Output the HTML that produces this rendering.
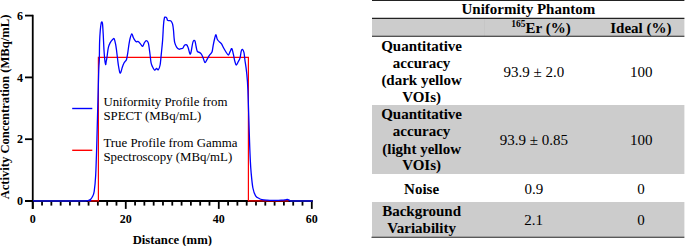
<!DOCTYPE html>
<html><head><meta charset="utf-8"><style>
html,body{margin:0;padding:0;background:#fff;}
body{width:685px;height:246px;overflow:hidden;position:relative;}
svg{position:absolute;left:0;top:0;}
text{font-family:"Liberation Serif",serif;}
</style></head><body>
<svg width="685" height="246" viewBox="0 0 685 246">
<!-- table backgrounds -->
<rect x="372" y="18.5" width="312.4" height="18" fill="#cccccc"/>
<rect x="372" y="105" width="312.4" height="69" fill="#cccccc"/>
<rect x="372" y="202" width="312.4" height="35" fill="#cccccc"/>
<line x1="484.5" y1="19" x2="484.5" y2="36" stroke="#c6c6c6" stroke-width="1"/>
<g stroke="#222" stroke-width="1.1">
<line x1="372" y1="0.5" x2="684.4" y2="0.5"/>
<line x1="372" y1="18.4" x2="684.4" y2="18.4"/>
<line x1="372" y1="36.3" x2="684.4" y2="36.3"/>
<line x1="371.5" y1="237.2" x2="684.4" y2="237.2"/>
</g>
<g font-size="15" font-weight="bold" text-anchor="middle" fill="#000">
<text x="528.4" y="14.3">Uniformity Phantom</text>
<text x="421.6" y="50.8">Quantitative</text>
<text x="421.6" y="67.7">accuracy</text>
<text x="421.6" y="84.5">(dark yellow</text>
<text x="421.6" y="101.5">VOIs)</text>
<text x="421.6" y="119.4">Quantitative</text>
<text x="421.6" y="136.0">accuracy</text>
<text x="421.6" y="153.5">(light yellow</text>
<text x="421.6" y="170.4">VOIs)</text>
<text x="421.6" y="193.5">Noise</text>
<text x="421.6" y="216.3">Background</text>
<text x="421.6" y="232.6">Variability</text>
<text x="640.9" y="32.5">Ideal (%)</text>
<text x="541" y="32.5"><tspan font-size="9.5" dy="-5.5">165</tspan><tspan dy="5.5">Er (%)</tspan></text>
</g>
<g font-size="15" text-anchor="middle" fill="#000">
<text x="533.9" y="76.8">93.9 ± 2.0</text>
<text x="641.2" y="76.8">100</text>
<text x="533.8" y="145.2">93.9 ± 0.85</text>
<text x="641.2" y="145.2">100</text>
<text x="533.9" y="193.8">0.9</text>
<text x="640.9" y="193.9">0</text>
<text x="533.5" y="225.1">2.1</text>
<text x="640.9" y="225.1">0</text>
</g>
<!-- chart -->
<g stroke="#000" stroke-width="1.8" fill="none">
<line x1="32.75" y1="14.8" x2="32.75" y2="208.9"/>
<line x1="25" y1="201.0" x2="312.7" y2="201.0"/>
<line x1="42.05" y1="201.0" x2="42.05" y2="205.6"/><line x1="51.35" y1="201.0" x2="51.35" y2="205.6"/><line x1="60.66" y1="201.0" x2="60.66" y2="205.6"/><line x1="69.96" y1="201.0" x2="69.96" y2="205.6"/><line x1="79.26" y1="201.0" x2="79.26" y2="205.6"/><line x1="88.56" y1="201.0" x2="88.56" y2="205.6"/><line x1="97.86" y1="201.0" x2="97.86" y2="205.6"/><line x1="107.16" y1="201.0" x2="107.16" y2="205.6"/><line x1="116.47" y1="201.0" x2="116.47" y2="205.6"/><line x1="135.07" y1="201.0" x2="135.07" y2="205.6"/><line x1="144.37" y1="201.0" x2="144.37" y2="205.6"/><line x1="153.67" y1="201.0" x2="153.67" y2="205.6"/><line x1="162.97" y1="201.0" x2="162.97" y2="205.6"/><line x1="172.28" y1="201.0" x2="172.28" y2="205.6"/><line x1="181.58" y1="201.0" x2="181.58" y2="205.6"/><line x1="190.88" y1="201.0" x2="190.88" y2="205.6"/><line x1="200.18" y1="201.0" x2="200.18" y2="205.6"/><line x1="209.48" y1="201.0" x2="209.48" y2="205.6"/><line x1="228.09" y1="201.0" x2="228.09" y2="205.6"/><line x1="237.39" y1="201.0" x2="237.39" y2="205.6"/><line x1="246.69" y1="201.0" x2="246.69" y2="205.6"/><line x1="255.99" y1="201.0" x2="255.99" y2="205.6"/><line x1="265.29" y1="201.0" x2="265.29" y2="205.6"/><line x1="274.59" y1="201.0" x2="274.59" y2="205.6"/><line x1="283.90" y1="201.0" x2="283.90" y2="205.6"/><line x1="293.20" y1="201.0" x2="293.20" y2="205.6"/><line x1="302.50" y1="201.0" x2="302.50" y2="205.6"/><line x1="32.75" y1="201.0" x2="32.75" y2="208.9"/><line x1="125.77" y1="201.0" x2="125.77" y2="208.9"/><line x1="218.78" y1="201.0" x2="218.78" y2="208.9"/><line x1="311.80" y1="201.0" x2="311.80" y2="208.9"/><line x1="25" y1="201.00" x2="32.75" y2="201.00"/><line x1="25" y1="139.20" x2="32.75" y2="139.20"/><line x1="25" y1="77.40" x2="32.75" y2="77.40"/><line x1="25" y1="15.60" x2="32.75" y2="15.60"/>
</g>
<path d="M88,200.9 L98.4,200.9 L98.4,57.4 L248.4,57.4 L248.4,200.9 L288.7,200.9" fill="none" stroke="#ff0000" stroke-width="1.2"/>
<path d="M33.00,200.70 C41.83,200.70 76.73,200.77 86.00,200.70 C95.27,200.63 87.82,200.55 88.60,200.30 C89.38,200.05 90.05,199.83 90.70,199.20 C91.35,198.57 91.92,197.82 92.50,196.50 C93.08,195.18 93.67,194.88 94.20,191.30 C94.73,187.72 95.25,183.55 95.70,175.00 C96.15,166.45 96.42,156.67 96.90,140.00 C97.38,123.33 98.20,88.33 98.60,75.00 C99.00,61.67 99.13,65.50 99.30,60.00 C99.47,54.50 99.43,47.00 99.60,42.00 C99.77,37.00 100.03,33.17 100.30,30.00 C100.57,26.83 100.95,24.33 101.20,23.00 C101.45,21.67 101.58,21.90 101.80,22.00 C102.02,22.10 102.27,21.60 102.50,23.60 C102.73,25.60 102.95,29.57 103.20,34.00 C103.45,38.43 103.73,45.87 104.00,50.20 C104.27,54.53 104.53,57.60 104.80,60.00 C105.07,62.40 105.35,64.43 105.60,64.60 C105.85,64.77 106.05,62.38 106.30,61.00 C106.55,59.62 106.77,58.50 107.10,56.30 C107.43,54.10 107.80,50.03 108.30,47.80 C108.80,45.57 109.38,44.28 110.10,42.90 C110.82,41.52 111.92,40.18 112.60,39.50 C113.28,38.82 113.70,38.03 114.20,38.80 C114.70,39.57 115.22,42.23 115.60,44.10 C115.98,45.97 116.20,47.77 116.50,50.00 C116.80,52.23 117.07,54.83 117.40,57.50 C117.73,60.17 118.08,63.45 118.50,66.00 C118.92,68.55 119.47,71.88 119.90,72.80 C120.33,73.72 120.70,72.42 121.10,71.50 C121.50,70.58 121.82,68.72 122.30,67.30 C122.78,65.88 123.48,64.02 124.00,63.00 C124.52,61.98 124.97,61.82 125.40,61.20 C125.83,60.58 126.20,60.73 126.60,59.30 C127.00,57.87 127.40,55.13 127.80,52.60 C128.20,50.07 128.60,46.53 129.00,44.10 C129.40,41.67 129.73,39.72 130.20,38.00 C130.67,36.28 131.28,33.88 131.80,33.80 C132.32,33.72 132.75,36.35 133.30,37.50 C133.85,38.65 134.57,39.98 135.10,40.70 C135.63,41.42 135.98,41.67 136.50,41.80 C137.02,41.93 137.52,41.12 138.20,41.50 C138.88,41.88 139.85,43.30 140.60,44.10 C141.35,44.90 142.08,46.50 142.70,46.30 C143.32,46.10 143.70,43.85 144.30,42.90 C144.90,41.95 145.63,40.60 146.30,40.60 C146.97,40.60 147.72,40.90 148.30,42.90 C148.88,44.90 149.35,49.35 149.80,52.60 C150.25,55.85 150.60,60.15 151.00,62.40 C151.40,64.65 151.60,64.82 152.20,66.10 C152.80,67.38 153.88,69.70 154.60,70.10 C155.32,70.50 155.88,68.57 156.50,68.50 C157.12,68.43 157.70,70.28 158.30,69.70 C158.90,69.12 159.60,67.63 160.10,65.00 C160.60,62.37 160.88,58.00 161.30,53.90 C161.72,49.80 162.23,45.22 162.60,40.40 C162.97,35.58 163.20,28.73 163.50,25.00 C163.80,21.27 164.07,19.30 164.40,18.00 C164.73,16.70 165.10,17.17 165.50,17.20 C165.90,17.23 166.45,17.67 166.80,18.20 C167.15,18.73 167.18,20.00 167.60,20.40 C168.02,20.80 168.72,20.48 169.30,20.60 C169.88,20.72 170.55,20.50 171.10,21.10 C171.65,21.70 172.20,22.67 172.60,24.20 C173.00,25.73 173.25,28.00 173.50,30.30 C173.75,32.60 173.88,35.90 174.10,38.00 C174.32,40.10 174.38,41.38 174.80,42.90 C175.22,44.42 175.90,46.05 176.60,47.10 C177.30,48.15 178.28,48.93 179.00,49.20 C179.72,49.47 180.28,48.83 180.90,48.70 C181.52,48.57 182.10,48.97 182.70,48.40 C183.30,47.83 183.83,45.88 184.50,45.30 C185.17,44.72 186.08,44.48 186.70,44.90 C187.32,45.32 187.65,46.28 188.20,47.80 C188.75,49.32 189.50,53.40 190.00,54.00 C190.50,54.60 190.70,53.42 191.20,51.40 C191.70,49.38 192.38,43.67 193.00,41.90 C193.62,40.13 194.38,40.03 194.90,40.80 C195.42,41.57 195.70,44.73 196.10,46.50 C196.50,48.27 196.68,50.38 197.30,51.40 C197.92,52.42 199.08,52.08 199.80,52.60 C200.52,53.12 201.00,53.48 201.60,54.50 C202.20,55.52 202.83,57.35 203.40,58.70 C203.97,60.05 204.38,62.50 205.00,62.60 C205.62,62.70 206.35,60.55 207.10,59.30 C207.85,58.05 208.68,56.32 209.50,55.10 C210.32,53.88 211.38,53.63 212.00,52.00 C212.62,50.37 212.73,47.63 213.20,45.30 C213.67,42.97 214.33,39.75 214.80,38.00 C215.27,36.25 215.57,34.55 216.00,34.80 C216.43,35.05 216.75,38.25 217.40,39.50 C218.05,40.75 219.18,41.53 219.90,42.30 C220.62,43.07 221.10,43.18 221.70,44.10 C222.30,45.02 222.78,46.48 223.50,47.80 C224.22,49.12 225.18,50.80 226.00,52.00 C226.82,53.20 227.70,55.10 228.40,55.00 C229.10,54.90 229.63,52.47 230.20,51.40 C230.77,50.33 231.28,48.18 231.80,48.60 C232.32,49.02 232.80,51.80 233.30,53.90 C233.80,56.00 234.30,59.35 234.80,61.20 C235.30,63.05 235.73,64.90 236.30,65.00 C236.87,65.10 237.58,62.95 238.20,61.80 C238.82,60.65 239.50,59.83 240.00,58.10 C240.50,56.37 240.80,52.85 241.20,51.40 C241.60,49.95 241.93,49.20 242.40,49.40 C242.87,49.60 243.58,50.83 244.00,52.60 C244.42,54.37 244.47,56.73 244.90,60.00 C245.33,63.27 246.10,67.20 246.60,72.20 C247.10,77.20 247.42,78.70 247.90,90.00 C248.38,101.30 249.10,128.33 249.50,140.00 C249.90,151.67 250.03,154.62 250.30,160.00 C250.57,165.38 250.67,167.63 251.10,172.30 C251.53,176.97 252.15,184.08 252.90,188.00 C253.65,191.92 254.48,194.02 255.60,195.80 C256.72,197.58 258.53,198.07 259.60,198.70 C260.67,199.33 260.88,199.37 262.00,199.60 C263.12,199.83 264.55,199.97 266.30,200.10 C268.05,200.23 270.00,200.40 272.50,200.40 C275.00,200.40 279.22,200.20 281.30,200.10 C283.38,200.00 283.98,199.93 285.00,199.80 C286.02,199.67 286.63,199.20 287.40,199.30 C288.17,199.40 288.83,200.17 289.60,200.40 C290.37,200.63 288.30,200.65 292.00,200.70 C295.70,200.75 308.50,200.70 311.80,200.70" fill="none" stroke="#0000ff" stroke-width="1.3" stroke-linejoin="round"/>
<g stroke="#1212b4" stroke-width="1.8"><line x1="33.7" y1="200.95" x2="86.5" y2="200.95"/><line x1="290.2" y1="200.95" x2="312.7" y2="200.95"/></g>
<g font-size="12" font-weight="bold" fill="#000"><text x="32.75" y="223.1" text-anchor="middle">0</text><text x="125.77" y="223.1" text-anchor="middle">20</text><text x="218.78" y="223.1" text-anchor="middle">40</text><text x="311.80" y="223.1" text-anchor="middle">60</text><text x="23" y="205.20" text-anchor="end">0</text><text x="23" y="143.40" text-anchor="end">2</text><text x="23" y="81.60" text-anchor="end">4</text><text x="23" y="19.80" text-anchor="end">6</text></g>
<text x="172.3" y="243.9" font-size="12.7" font-weight="bold" text-anchor="middle">Distance (mm)</text>
<text transform="translate(9,107) rotate(-90)" font-size="12.6" font-weight="bold" text-anchor="middle">Activity Concentration (MBq/mL)</text>
<line x1="72.2" y1="108.5" x2="92.3" y2="108.5" stroke="#0000ff" stroke-width="1.4"/>
<line x1="72.2" y1="150.3" x2="92.3" y2="150.3" stroke="#ff0000" stroke-width="1.4"/>
<g font-size="12.85" fill="#000">
<text x="103.4" y="105.5">Uniformity Profile from</text>
<text x="103.4" y="119.7">SPECT (MBq/mL)</text>
<text x="103.4" y="147.2">True Profile from Gamma</text>
<text x="103.4" y="161.3">Spectroscopy (MBq/mL)</text>
</g>
</svg>
</body></html>
